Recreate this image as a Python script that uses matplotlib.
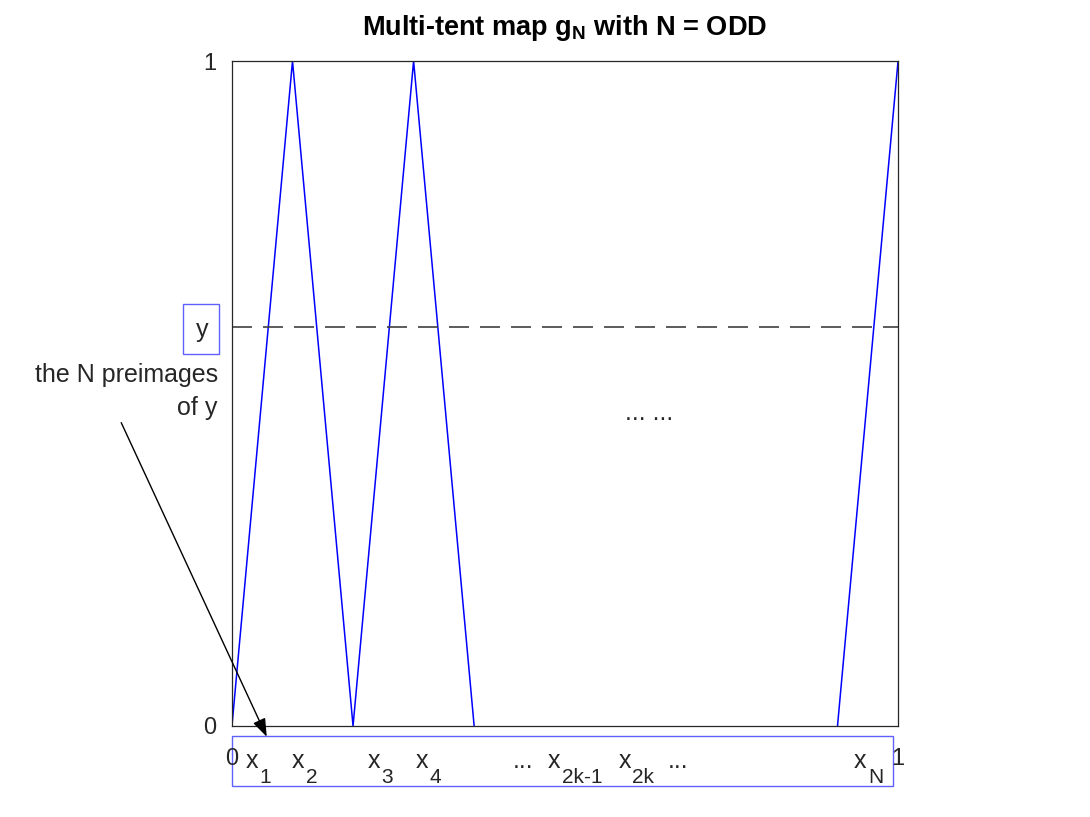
import matplotlib
matplotlib.use("Agg")
import matplotlib.pyplot as plt
from matplotlib.patches import Rectangle

plt.rcParams['font.family'] = ['Liberation Sans', 'DejaVu Sans']
plt.rcParams['mathtext.fontset'] = 'custom'
plt.rcParams['mathtext.rm'] = 'Liberation Sans'
plt.rcParams['mathtext.it'] = 'Liberation Sans'
plt.rcParams['mathtext.bf'] = 'Liberation Sans:bold'

# tent map pieces (N = 11 drawn, gap in the middle)
x_left = [0.0, 0.0909, 0.1818, 0.2727, 0.3636]
y_left = [0, 1, 0, 1, 0]
x_right = [0.9091, 1.0]
y_right = [0, 1]
y_level = 0.6

# preimage labels along the bottom strip
pre_main = ['x', 'x', 'x', 'x', '...', 'x', 'x', '...', 'x']
pre_subs = ['1', '2', '3', '4', '', '2k-1', '2k', '', 'N']
pre_pos = [0.021, 0.090, 0.204, 0.276, 0.422, 0.474, 0.580, 0.655, 0.934]

txt = '#262626'
blue = '#0000ff'
boxblue = '#6060ff'

fig = plt.figure(figsize=(10.9, 8.17), dpi=100)
ax = fig.add_axes([0.2128, 0.1114, 0.6111, 0.8139])

ax.plot(x_left, y_left, color=blue, lw=1.1)
ax.plot(x_right, y_right, color=blue, lw=1.1)
ax.axhline(y_level, color='#404040', lw=1.2, linestyle=(0, (12, 6.6)))

ax.set_xlim(0, 1)
ax.set_ylim(0, 1)
ax.set_xticks([0, 1])
ax.set_yticks([0, 1])
ax.set_xticklabels(['0', '1'])
ax.set_yticklabels(['0', '1'])
ax.tick_params(axis='both', length=0, labelsize=17, colors=txt)
ax.tick_params(axis='x', pad=16)
ax.tick_params(axis='y', pad=11)
for s in ax.spines.values():
    s.set_color(txt)
    s.set_linewidth(0.9)

ax.set_title(r'Multi-tent map $\mathbf{g_N}$ with N = ODD', fontsize=19.5,
             fontweight='bold', pad=19)

ax.text(0.627, 0.46, '... ...', fontsize=18, color=txt, ha='center', va='baseline',
        transform=ax.transAxes)

# box around y
ax.add_patch(Rectangle((-0.0736, 0.559), 0.0541, 0.076, transform=ax.transAxes,
                       fill=False, edgecolor=boxblue, lw=1, clip_on=False))
ax.text(-0.0445, 0.585, 'y', fontsize=18, color=txt, ha='center', va='baseline',
        transform=ax.transAxes)

ax.text(-0.021, 0.517, 'the N preimages', fontsize=18, color=txt, ha='right',
        va='baseline', transform=ax.transAxes)
ax.text(-0.022, 0.468, 'of y', fontsize=18, color=txt, ha='right',
        va='baseline', transform=ax.transAxes)

# bottom strip
ax.add_patch(Rectangle((0.0, -0.090), 0.9925, 0.075, transform=ax.transAxes,
                       fill=False, edgecolor=boxblue, lw=1, clip_on=False))
for m, sub, p in zip(pre_main, pre_subs, pre_pos):
    ax.text(p, -0.063, m, fontsize=18, color=txt, ha='left', va='baseline',
            transform=ax.transAxes)
    if sub:
        ax.annotate(sub, xy=(p, -0.063), xycoords='axes fraction',
                    xytext=(10, -11), textcoords='offset points',
                    fontsize=15, color=txt, ha='left', va='baseline',
                    annotation_clip=False)

ax.annotate('', xy=(0.054, -0.02), xytext=(-0.168, 0.46),
            xycoords='axes fraction', textcoords='axes fraction',
            arrowprops=dict(arrowstyle='-|>,head_length=1.1,head_width=0.4',
                            color='black', lw=1), annotation_clip=False)

fig.savefig('out.png', dpi=100)
